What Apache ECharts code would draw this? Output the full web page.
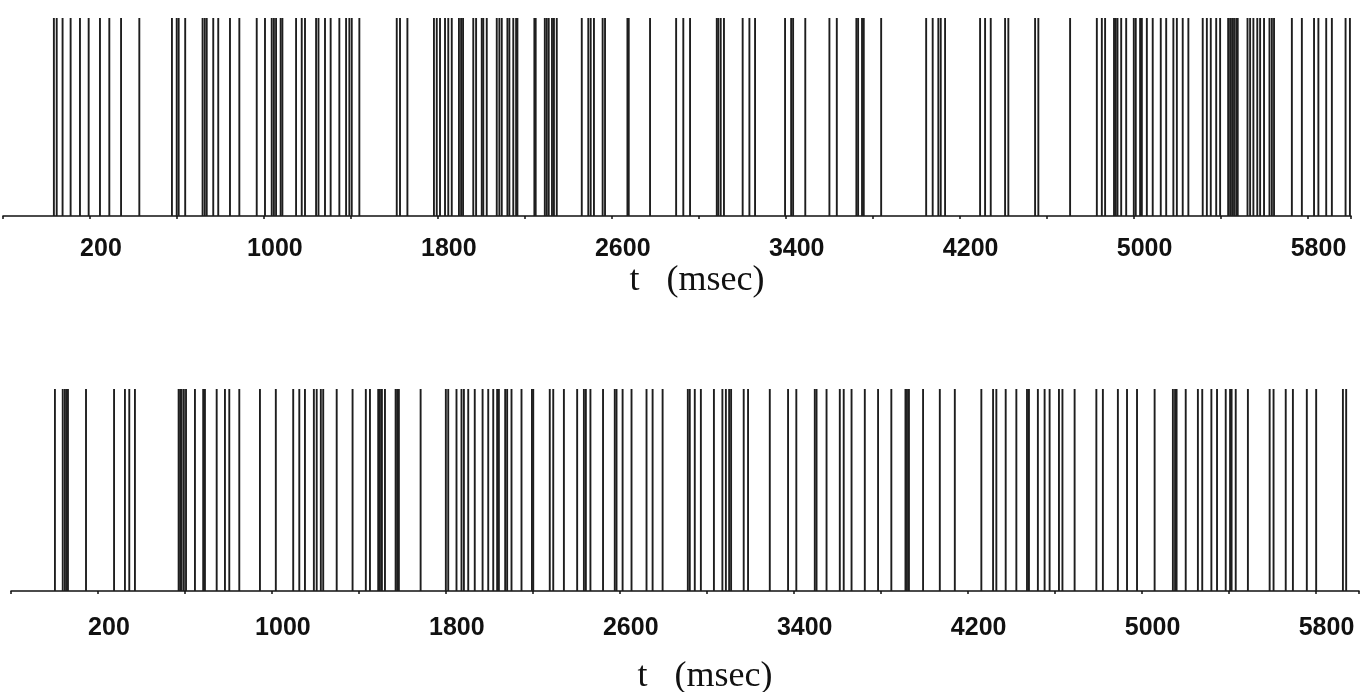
<!DOCTYPE html>
<html>
<head>
<meta charset="utf-8">
<script src="https://cdn.jsdelivr.net/npm/echarts@6/dist/echarts.min.js"></script>
<style>html,body{margin:0;padding:0;background:#fff;}#c{width:1361px;height:692px;}</style>
</head>
<body>
<div id="c"></div>
<script>
// Spike times (ms), upper train
const spikesTop = [34,47,74,111,154,194,246,289,343,427,577,599,608,638,718,728,737,767,790,844,887,967,
1005,1036,1046,1056,1077,1085,1148,1174,1189,1240,1251,1281,1307,1347,1378,1393,1404,1439,1611,1626,1660,
1782,1795,1810,1833,1848,1864,1897,1907,1916,1963,1976,2002,2009,2025,2071,2083,2094,2120,2129,2147,2160,2166,
2244,2250,2292,2301,2310,2325,2334,2347,2462,2492,2503,2518,2558,2569,2672,2678,2776,2896,2929,2960,
3083,3090,3101,3116,3202,3233,3259,3397,3425,3434,3490,3601,3635,3725,3733,3751,3759,3839,
4046,4076,4102,4113,4133,4294,4317,4343,4409,4424,4547,4562,4708,4831,4854,4869,4910,4918,4926,4943,4966,
5001,5010,5030,5038,5061,5088,5125,5150,5183,5199,5226,5252,5318,5337,5355,5380,5398,5435,5444,5453,5462,5472,5479,
5524,5536,5551,5569,5582,5600,5625,5636,5646,5728,5774,5830,5850,5886,5912,5975,5995];
// Spike times (ms), lower train
const spikesBottom = [2,38,48,56,62,145,274,324,344,370,571,578,585,595,605,646,684,692,746,784,804,850,945,
1018,1098,1126,1152,1193,1206,1225,1236,1298,1371,1432,1451,1489,1497,1506,1520,1569,1576,1584,1684,
1800,1811,1849,1872,1883,1903,1933,1969,1995,2018,2036,2044,2073,2082,2102,2148,2196,2202,2278,2294,2343,
2404,2435,2444,2465,2523,2577,2585,2613,2654,2723,2751,2797,2913,2922,2945,2973,
3033,3072,3088,3103,3112,3170,3190,3290,3374,3412,3497,3505,3551,3612,3630,3666,3727,3788,3849,3914,3921,3930,3995,
4072,4141,4263,4317,4332,4375,4424,4473,4482,4523,4554,4577,4620,4636,4692,4792,4822,4891,4933,4979,
5060,5144,5154,5161,5203,5259,5279,5321,5347,5387,5407,5414,5433,5489,5589,5607,5663,5696,5760,5803,5926,5941];
const tickLabels = [200,1000,1800,2600,3400,4200,5000,5800];
const axisTitle = 't   (msec)';

const chart = echarts.init(document.getElementById('c'), null, {renderer:'canvas'});

function xAx(gi, margin, gap) {
  return {
    type:'value', gridIndex:gi, min:-200, max:6000, interval:400,
    axisLine:{show:true, lineStyle:{color:'#111', width:1.6}},
    axisTick:{show:true, length:3, lineStyle:{color:'#111', width:1.5}},
    splitLine:{show:false},
    axisLabel:{
      margin:margin, fontFamily:'Liberation Sans', fontSize:25, fontWeight:'bold', color:'#111',
      padding:[0,0,0,22],
      formatter: v => tickLabels.indexOf(v) >= 0 ? String(v) : ''
    },
    name: axisTitle, nameLocation:'middle', nameGap: gap,
    nameTextStyle:{fontFamily:'Liberation Serif', fontSize:36, color:'#111', padding:[0,0,0,40]}
  };
}
function yAx(gi){
  return {type:'value', gridIndex:gi, min:0, max:1, show:false};
}
function renderSpike(params, api){
  const t = api.value(0);
  const p0 = api.coord([t, 0]);
  const p1 = api.coord([t, 1]);
  return {type:'line', shape:{x1:p0[0], y1:p0[1], x2:p1[0], y2:p1[1]},
          style:{stroke:'#1e1e1e', lineWidth:1.9}};
}
chart.setOption({
  animation:false,
  backgroundColor:'#fff',
  grid:[
    {left:3, width:1348, top:18, height:198, outerBoundsMode:'none', containLabel:false},
    {left:11, width:1348, top:389, height:202, outerBoundsMode:'none', containLabel:false}
  ],
  xAxis:[xAx(0, 21, 27), xAx(1, 25, 68)],
  yAxis:[yAx(0), yAx(1)],
  series:[
    {type:'custom', xAxisIndex:0, yAxisIndex:0, renderItem:renderSpike,
     encode:{x:0, y:1}, data: spikesTop.map(t => [t, 1])},
    {type:'custom', xAxisIndex:1, yAxisIndex:1, renderItem:renderSpike,
     encode:{x:0, y:1}, data: spikesBottom.map(t => [t, 1])}
  ]
});
</script>
</body>
</html>
